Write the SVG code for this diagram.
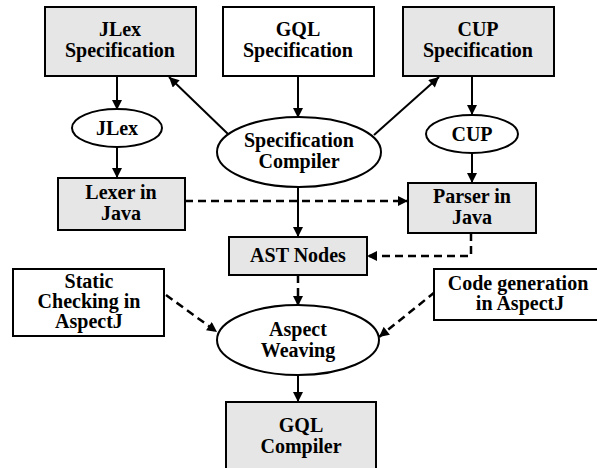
<svg xmlns="http://www.w3.org/2000/svg" width="597" height="468" viewBox="0 0 597 468">
<style>
  .box { stroke: #000; stroke-width: 2; }
  .g { fill: #e6e6e6; }
  .w { fill: #fff; }
  .c { fill: none; stroke: #000; stroke-width: 2; }
  .d { stroke-dasharray: 8 5; stroke-width: 2.5; }
</style>
<defs>
  <marker id="arr" viewBox="0 0 10 10" refX="10" refY="5" markerWidth="11" markerHeight="10" markerUnits="userSpaceOnUse" orient="auto">
    <path d="M0,0 L10,5 L0,10 z" fill="#000"/>
  </marker>
</defs>
<rect width="597" height="468" fill="#fff"/>
<g id="connectors">
  <path class="c" d="M117,76 L117,110" marker-end="url(#arr)"/>
  <path class="c" d="M117,147 L117,178" marker-end="url(#arr)"/>
  <path class="c" d="M298,76 L298,118" marker-end="url(#arr)"/>
  <path class="c" d="M228,134 L169,77" marker-end="url(#arr)"/>
  <path class="c" d="M374,135 L439,77" marker-end="url(#arr)"/>
  <path class="c" d="M472,76 L472,115" marker-end="url(#arr)"/>
  <path class="c" d="M472,153 L472,183" marker-end="url(#arr)"/>
  <path class="c d" d="M185,201 L408,201" marker-end="url(#arr)"/>
  <path class="c" d="M298,187 L298,237" marker-end="url(#arr)"/>
  <path class="c d" d="M471,233 L471,256 L367,256" marker-end="url(#arr)"/>
  <path class="c d" d="M298,275 L298,306" marker-end="url(#arr)"/>
  <path class="c d" d="M166,295 L217,332" marker-end="url(#arr)"/>
  <path class="c d" d="M435,292 L379,337" marker-end="url(#arr)"/>
  <path class="c" d="M298,375 L298,402" marker-end="url(#arr)"/>
</g>
<g font-family="Liberation Serif" font-size="20" font-weight="bold" text-anchor="middle" fill="#000">
<g id="jlex-spec">
  <rect class="box g" x="45" y="7" width="151" height="69"/>
  <text x="120" y="36">JLex</text>
  <text x="120" y="57">Specification</text>
</g>
<g id="gql-spec">
  <rect class="box w" x="223" y="7" width="151" height="69"/>
  <text x="298" y="36">GQL</text>
  <text x="298" y="57">Specification</text>
</g>
<g id="cup-spec">
  <rect class="box g" x="403" y="7" width="151" height="69"/>
  <text x="478" y="36">CUP</text>
  <text x="478" y="57">Specification</text>
</g>
<g id="jlex">
  <ellipse class="box w" cx="117" cy="128" rx="45" ry="19"/>
  <text x="117" y="135">JLex</text>
</g>
<g id="spec-compiler">
  <ellipse class="box w" cx="299" cy="152" rx="82" ry="35"/>
  <text x="299" y="147">Specification</text>
  <text x="299" y="168">Compiler</text>
</g>
<g id="cup">
  <ellipse class="box w" cx="472" cy="134" rx="46" ry="19"/>
  <text x="472" y="141">CUP</text>
</g>
<g id="lexer">
  <rect class="box g" x="58" y="178" width="127" height="52"/>
  <text x="121" y="199">Lexer in</text>
  <text x="121" y="220">Java</text>
</g>
<g id="parser">
  <rect class="box g" x="408" y="183" width="128" height="50"/>
  <text x="472" y="203">Parser in</text>
  <text x="472" y="224">Java</text>
</g>
<g id="ast">
  <rect class="box g" x="229" y="237" width="138" height="38"/>
  <text x="298" y="262">AST Nodes</text>
</g>
<g id="static">
  <rect class="box w" x="13" y="269" width="151" height="67"/>
  <text x="89" y="288">Static</text>
  <text x="89" y="308">Checking in</text>
  <text x="89" y="328">AspectJ</text>
</g>
<g id="codegen">
  <rect class="box w" x="434" y="269" width="190" height="51"/>
  <text x="518" y="290">Code generation</text>
  <text x="520" y="310">in AspectJ</text>
</g>
<g id="weaving">
  <ellipse class="box w" cx="298" cy="340" rx="81" ry="35"/>
  <text x="298" y="336">Aspect</text>
  <text x="298" y="357">Weaving</text>
</g>
<g id="gql-compiler">
  <rect class="box g" x="226" y="402" width="150" height="75"/>
  <text x="301" y="432">GQL</text>
  <text x="301" y="453">Compiler</text>
</g>
</g>
</svg>
